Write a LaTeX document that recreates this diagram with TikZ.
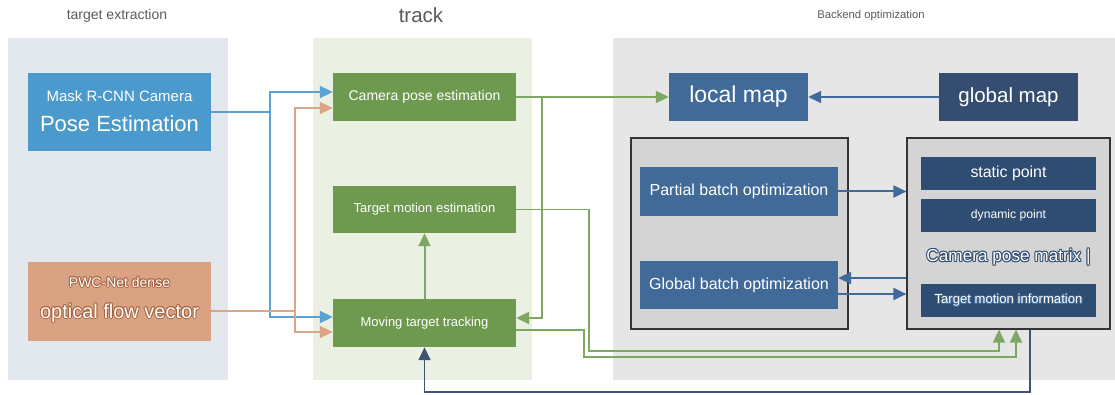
\documentclass[tikz,border=0pt]{standalone}
\usepackage{fontspec}
\setmainfont{Liberation Sans}
\usetikzlibrary{arrows.meta}

\definecolor{panelblue}{HTML}{E3E8EF}
\definecolor{panelgreen}{HTML}{EAF1E3}
\definecolor{panelgray}{HTML}{E6E6E6}
\definecolor{framegray}{HTML}{D4D4D4}
\definecolor{titlegray}{HTML}{5A5A5A}
\definecolor{maskblue}{HTML}{4B9ACD}
\definecolor{flowsalmon}{HTML}{D9A283}
\definecolor{ringbrown}{HTML}{A8643F}
\definecolor{trackgreen}{HTML}{6E9A50}
\definecolor{mapblue}{HTML}{416A99}
\definecolor{mapnavy}{HTML}{344D70}
\definecolor{infonavy}{HTML}{2F4C72}
\definecolor{linkblue}{HTML}{5AA2D2}
\definecolor{linkorange}{HTML}{DDA588}
\definecolor{linkgreen}{HTML}{7CA862}
\definecolor{linknavy}{HTML}{3F5473}

% font size in points, no leading worth speaking of
\newcommand\setpx[1]{\fontsize{#1}{#1}\selectfont}
% white text with a thin coloured rim
\newcommand\ringshift[3]{\makebox[0pt][l]{\hspace*{#1}\raisebox{#2}{#3}}}
\newcommand\ringtext[2]{{\color{#1}\ringshift{1pt}{0pt}{#2}\ringshift{-1pt}{0pt}{#2}%
  \ringshift{0pt}{1pt}{#2}\ringshift{0pt}{-1pt}{#2}\ringshift{0.7pt}{0.7pt}{#2}%
  \ringshift{-0.7pt}{0.7pt}{#2}\ringshift{0.7pt}{-0.7pt}{#2}\ringshift{-0.7pt}{-0.7pt}{#2}}#2}

\begin{document}
\begin{tikzpicture}[x=1pt, y=-1pt,
		title/.style={text=titlegray, inner sep=0pt},
		srcbox/.style={fill=#1, minimum width=183pt, minimum height=78pt, inner sep=0pt},
		stepbox/.style={fill=trackgreen, text=white, font=\setpx{13}, minimum width=183pt, minimum height=48pt, inner sep=0pt},
		mapbox/.style={fill=#1, text=white, minimum width=139pt, minimum height=48pt, inner sep=0pt},
		batchbox/.style={fill=mapblue, text=white, font=\setpx{16}, minimum width=198pt, minimum height=48pt, inner sep=0pt},
		infobox/.style={fill=infonavy, text=white, minimum width=175pt, minimum height=33pt, inner sep=0pt},
		frame/.style={fill=framegray, draw=black!80, line width=1.2pt, minimum width=#1, minimum height=191pt, inner sep=0pt},
		flow/.style={draw=#1, line width=2pt, -{Triangle[length=13pt, width=12pt]}}
	]
	\useasboundingbox (0,0) rectangle (1115,395);
	
	% the three stages
	\fill[panelblue] (8,38) rectangle (228,380);
	\fill[panelgreen] (313,38) rectangle (532,380);
	\fill[panelgray] (613,38) rectangle (1115,380);
	\node[title, font=\setpx{14}] (tExtract) at (117,16) {target extraction};
	\node[title, font=\setpx{20.5}] (tTrack) at (421,15) {track};
	\node[title, font=\setpx{11.3}] (tBackend) at (871,16) {Backend optimization};
	
	% target extraction
	\node[srcbox=maskblue] (mask) at (119.5,112) {};
	\node[text=white, font=\setpx{15}] (maskTop) at ([yshift=16pt]mask.center) {Mask R-CNN Camera};
	\node[text=white, font=\setpx{22}] (maskBot) at ([yshift=-12pt]mask.center) {Pose Estimation};
	\node[srcbox=flowsalmon, minimum height=79pt] (pwc) at (119.5,301.5) {};
	\node[text=white, font=\setpx{14}] (pwcTop) at ([yshift=19.5pt]pwc.center) {\ringtext{ringbrown}{PWC-Net dense}};
	\node[text=white, font=\setpx{20}] (pwcBot) at ([yshift=-11.5pt]pwc.center) {\ringtext{ringbrown}{optical flow vector}};
	
	% track
	\node[stepbox, font=\setpx{14}] (campose) at (424.5,97) {Camera pose estimation};
	\node[stepbox, minimum height=47pt] (tgtmot) at (424.5,209.5) {Target motion estimation};
	\node[stepbox] (moving) at (424.5,323) {Moving target tracking};
	
	% backend optimization
	\node[mapbox=mapblue, font=\setpx{23}] (localmap) at (738.5,97) {local map};
	\node[mapbox=mapnavy, font=\setpx{20.5}] (globalmap) at (1008.5,97) {global map};
	
	\node[frame=217pt] (batchframe) at (739.5,233.5) {};
	\node[batchbox, minimum height=49pt] (partial) at (739,191.5) {Partial batch optimization};
	\node[batchbox] (globalbatch) at (739,285) {Global batch optimization};
	
	\node[frame=203pt] (rightbox) at (1008.5,233.5) {};
	\node[infobox, font=\setpx{15.9}] (static) at (1008.5,173.5) {static point};
	\node[infobox, font=\setpx{12.2}] (dynamic) at (1008.5,215.5) {dynamic point};
	\node[text=white, font=\setpx{17.2}, inner sep=0pt] (cpmatrix) at (1008.5,257) {\ringtext{infonavy}{Camera pose matrix |}};
	\node[infobox, font=\setpx{13.1}] (tmi) at (1008.5,300.5) {\ringtext{mapblue}{Target motion information}};
	
	% inputs into tracking
	\coordinate (blueSplit) at (270,112);
	\coordinate (orangeSplit) at (295,311);
	\draw[flow=linkblue] (mask.east) -- (blueSplit) |- ([yshift=5pt]campose.west);
	\draw[flow=linkblue] (blueSplit) |- ([yshift=6pt]moving.west);
	\draw[flow=linkorange] ([yshift=-9.5pt]pwc.east) -- (orangeSplit) |- ([yshift=-11pt]campose.west);
	\draw[flow=linkorange] (orangeSplit) |- ([yshift=-9pt]moving.west);
	
	% tracking outputs
	\coordinate (greenSplit) at (542,97);
	\coordinate (tmBend) at (589,351);
	\coordinate (mvBend) at (584,357);
	\draw[flow=linkgreen] (campose.east) -- (localmap.west);
	\draw[flow=linkgreen] (greenSplit) |- ([yshift=5pt]moving.east);
	\draw[flow=linkgreen] (moving.north) -- (tgtmot.south);
	\draw[flow=linkgreen, line width=1.8pt] (tgtmot.east) -| (tmBend) -| ([xshift=-9.5pt]rightbox.south);
	\draw[flow=linkgreen, line width=1.8pt] ([yshift=-7pt]moving.east) -| (mvBend) -| ([xshift=7.5pt]rightbox.south);
	
	% feedback to tracking
	\coordinate (navyBend) at (424.5,392);
	\draw[flow=linknavy, line width=1.8pt] ([xshift=21.5pt]rightbox.south) |- (navyBend) -- (moving.south);
	
	% backend links
	\draw[flow=mapblue] (globalmap.west) -- (localmap.east);
	\draw[flow=mapblue] (partial.east) -- (partial.east -| rightbox.west);
	\draw[flow=mapblue] ([yshift=7pt]globalbatch.east -| rightbox.west) -- ([yshift=7pt]globalbatch.east);
	\draw[flow=mapblue] ([yshift=-9pt]globalbatch.east) -- ([yshift=-9pt]globalbatch.east -| rightbox.west);
\end{tikzpicture}
\end{document}
